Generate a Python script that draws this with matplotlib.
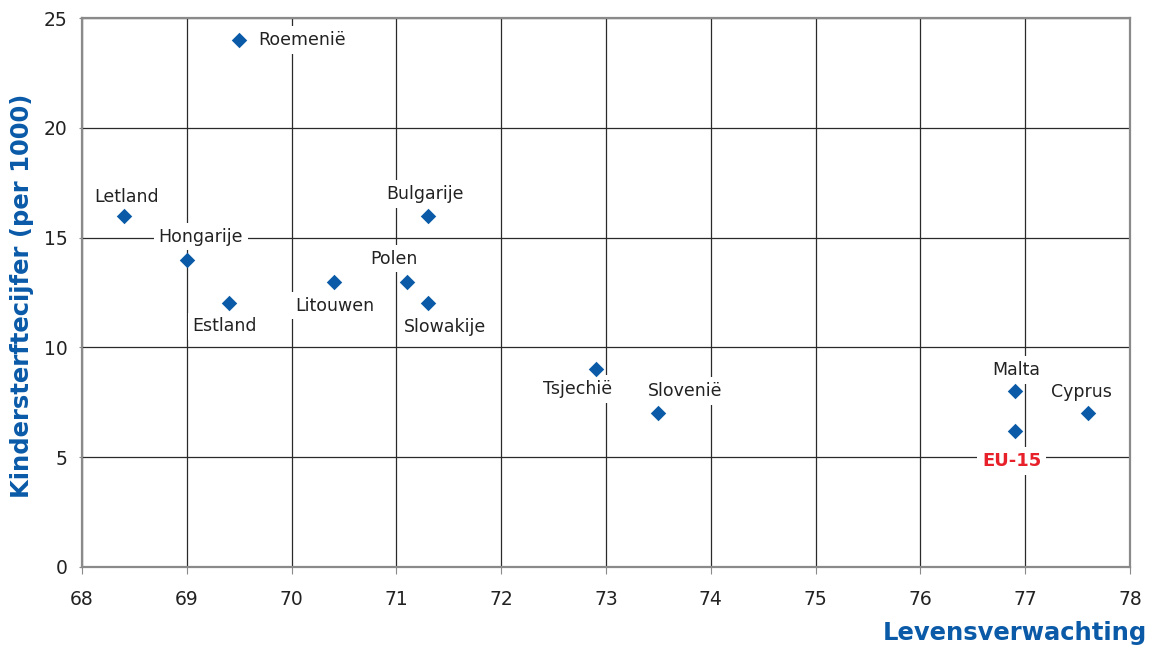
import matplotlib.pyplot as plt

# data
landen = ["Roemenië", "Letland", "Hongarije", "Estland", "Litouwen", "Polen",
          "Bulgarije", "Slowakije", "Tsjechië", "Slovenië", "Malta", "Cyprus", "EU-15"]
levensverwachting = [69.5, 68.4, 69.0, 69.4, 70.4, 71.1, 71.3, 71.3, 72.9, 73.5, 76.9, 77.6, 76.9]
kindersterfte = [24, 16, 14, 12, 13, 13, 16, 12, 9, 7, 8, 7, 6.2]

# label offsets in pixels (dx, dy) relative to the point
offsets = [(19, 0), (3, 19), (14, 23), (-4, -23), (1, -24), (-13, 23),
           (-3, 22), (17, -24), (-18, -20), (27, 22), (2, 21), (-7, 21), (-3, -30)]

blauw = "#0a5aa8"
rood = "#e8202a"

fig = plt.figure(figsize=(11.51, 6.47), dpi=100)
ax = fig.add_axes([82 / 1151, 1 - 567 / 647, (1130 - 82) / 1151, (567 - 18) / 647])

ax.scatter(levensverwachting, kindersterfte, marker="D", s=62, color=blauw,
           zorder=4, linewidths=0)

px = 72 / 100  # pixel -> points
for naam, x, y, (dx, dy) in zip(landen, levensverwachting, kindersterfte, offsets):
    ha = "left" if naam == "Roemenië" else "center"
    if naam == "EU-15":
        kw = dict(color=rood, fontweight="bold", fontsize=13)
    else:
        kw = dict(color="#222222", fontsize=12.5)
    ax.annotate(naam, (x, y), xytext=(dx * px, dy * px), textcoords="offset points",
                ha=ha, va="center", zorder=3,
                bbox=dict(facecolor="white", edgecolor="none", pad=3.5), **kw)

ax.set_xlim(68, 78)
ax.set_ylim(0, 25)
ax.set_xticks(range(68, 79))
ax.set_yticks(range(0, 26, 5))
ax.grid(True, color="#2a2a2a", linewidth=0.9, zorder=1)
ax.set_axisbelow(True)
for s in ax.spines.values():
    s.set_color("#8a8a8a")
    s.set_linewidth(1.6)
ax.tick_params(direction="out", color="#8a8a8a", labelsize=13.5,
               labelcolor="#222222")
ax.tick_params(axis="x", length=5, pad=11.5)
ax.tick_params(axis="y", length=2.5, pad=8)

fig.text(1147 / 1151, 1 - 633 / 647, "Levensverwachting", ha="right", va="center",
         color=blauw, fontweight="bold", fontsize=17.5)
fig.text(22 / 1151, 1 - 296 / 647, "Kindersterftecijfer (per 1000)", ha="center",
         va="center", rotation=90, color=blauw, fontweight="bold", fontsize=17.5)

fig.savefig("out.png", dpi=100)
